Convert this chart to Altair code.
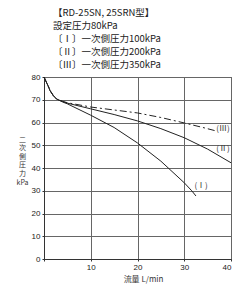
import altair as alt
import pandas as pd

# Curve data (flow L/min, secondary pressure kPa)
x_I = [0, 0.4, 0.9, 1.3, 2, 2.7, 4, 5, 10, 15, 20, 25, 30, 31.6, 32.5]
y_I = [80, 78.2, 76, 74, 71.8, 70.3, 69.0, 68.2, 63.2, 57.8, 51, 43, 33.5, 30, 27.7]

x_II = [0, 0.4, 0.9, 1.3, 2, 2.7, 4, 5, 10, 15, 20, 25, 30, 35, 40]
y_II = [80, 78.2, 76, 74, 71.8, 70.3, 69.2, 68.5, 66, 63.5, 60.7, 57.3, 53.3, 48.3, 42.3]

x_III = [0, 0.4, 0.9, 1.3, 2, 2.7, 4, 5, 10, 15, 20, 25, 30, 34, 36.6]
y_III = [80, 78.2, 76, 74, 71.8, 70.3, 69.3, 68.7, 66.8, 65.5, 64.2, 62.2, 59.8, 57.8, 56.4]

label_text = ["(Ⅰ)", "(Ⅱ)", "(Ⅲ)"]
label_x = [33.6, 38.3, 38.3]
label_y = [32, 48.2, 57.1]

x_ticks = [0, 10, 20, 30, 40]
y_ticks = [0, 10, 20, 30, 40, 50, 60, 70, 80]

title_lines = [
    "【RD-25SN, 25SRN型】",
    "設定圧力80kPa",
    "〔Ⅰ〕一次側圧力100kPa",
    "〔Ⅱ〕一次側圧力200kPa",
    "〔Ⅲ〕一次側圧力350kPa",
]

rows = []
for name, xs, ys in (("I", x_I, y_I), ("II", x_II, y_II), ("III", x_III, y_III)):
    for i, (a, b) in enumerate(zip(xs, ys)):
        rows.append({"curve": name, "q": a, "p": b, "o": i})
df = pd.DataFrame(rows)
lab = pd.DataFrame({"t": label_text, "q": label_x, "p": label_y})

FONT = "Noto Sans CJK JP"
NUMFONT = "Liberation Sans"

xscale = alt.Scale(domain=[0, 40])
yscale = alt.Scale(domain=[0, 80])

x_axis = alt.Axis(
    values=x_ticks, labelExpr="datum.value == 0 ? '' : datum.label",
    title="流量 L/min", titleFont=FONT, titleFontSize=8, titleFontWeight="normal",
    titleColor="#333", titleX=99, titleY=20, titleBaseline="middle", titleAlign="center",
    labelFont=NUMFONT, labelFontSize=8, labelColor="#222", labelOverlap=False,
    gridColor="#666", gridWidth=1, domainColor="#333", tickColor="#333", tickSize=2,
)
y_axis = alt.Axis(
    values=y_ticks,
    title=["二", "次", "側", "圧", "力", "kPa"], titleAngle=0, titleFont=FONT,
    titleFontSize=7, titleLineHeight=8.6, titleFontWeight="normal", titleColor="#333",
    titleX=-22, titleY=58, titleAlign="center", titleBaseline="top",
    labelFont=NUMFONT, labelFontSize=8, labelColor="#222", labelOverlap=False,
    gridColor="#666", gridWidth=1, domainColor="#333", tickColor="#333", tickSize=2,
)

X = alt.X("q:Q", scale=xscale, axis=x_axis)
Y = alt.Y("p:Q", scale=yscale, axis=y_axis)

solid = alt.Chart(df).transform_filter("datum.curve != 'III'").mark_line(
    color="#222", strokeWidth=1
).encode(x=X, y=Y, detail="curve:N", order="o:Q")

dashed = alt.Chart(df).transform_filter("datum.curve == 'III'").mark_line(
    color="#222", strokeWidth=1, strokeDash=[7, 3, 2, 3]
).encode(x=X, y=Y, order="o:Q")

labels = alt.Chart(lab).mark_text(
    font=FONT, fontSize=8, color="#333", align="center", baseline="middle"
).encode(x=X, y=Y, text="t:N")

chart = alt.layer(solid, dashed, labels).properties(
    width=187, height=182,
    padding={"left": 16, "top": 7, "right": 15, "bottom": 10},
    title=alt.TitleParams(
        text=title_lines, anchor="start", frame="group", dx=9, offset=4,
        font=FONT, fontSize=9.5, fontWeight="normal", color="#222", lineHeight=13,
    ),
).configure_view(stroke="#444", strokeWidth=1)

chart.save("out.html", embed_options={"renderer": "svg", "actions": False})
